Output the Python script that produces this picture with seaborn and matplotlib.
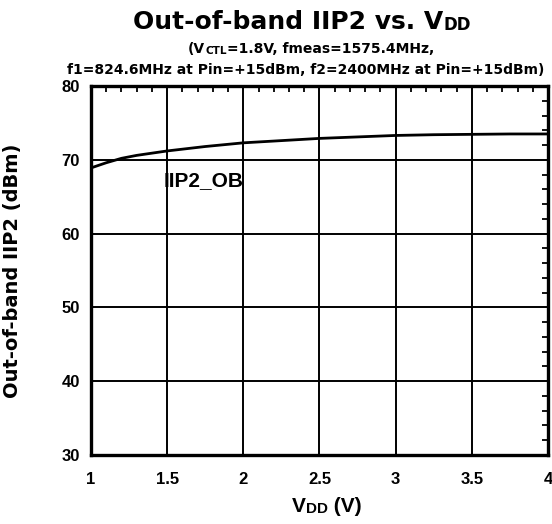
import matplotlib
matplotlib.use('Agg')
import matplotlib.pyplot as plt
from matplotlib.ticker import MultipleLocator
import seaborn as sns

# veriler
vdd = [1.0, 1.1, 1.2, 1.3, 1.5, 1.75, 2.0, 2.25, 2.5, 2.75, 3.0, 3.25, 3.5, 3.75, 4.0]
iip2_ob = [68.9, 69.6, 70.2, 70.6, 71.2, 71.8, 72.3, 72.6, 72.9, 73.1, 73.3, 73.4, 73.45, 73.5, 73.5]
x_ticks = [1, 1.5, 2, 2.5, 3, 3.5, 4]
x_tick_labels = ['1', '1.5', '2', '2.5', '3', '3.5', '4']
y_ticks = [30, 40, 50, 60, 70, 80]

sns.set_style('white')
plt.rcParams['font.family'] = ['Liberation Sans', 'DejaVu Sans']
plt.rcParams['font.weight'] = 'bold'
for k in ['text.color', 'axes.labelcolor', 'xtick.color', 'ytick.color', 'axes.edgecolor']:
    plt.rcParams[k] = 'black'

fig = plt.figure(figsize=(5.52, 5.24), dpi=100)
ax = fig.add_axes([91/552, 69/524, 457/552, 369/524])

sns.lineplot(x=vdd, y=iip2_ob, color='black', linewidth=2.0, ax=ax)

ax.set_xlim(1, 4)
ax.set_ylim(30, 80)
ax.set_xticks(x_ticks)
ax.set_xticklabels(x_tick_labels)
ax.set_yticks(y_ticks)
ax.xaxis.set_minor_locator(MultipleLocator(0.1))
ax.yaxis.set_minor_locator(MultipleLocator(2))
ax.grid(True, which='major', color='black', linewidth=1.4)
ax.tick_params(which='both', direction='in', top=True, right=True, labelsize=12, width=1.3, colors='black')
ax.tick_params(which='major', length=0, pad=12)
ax.tick_params(which='minor', length=4.5)
ax.tick_params(axis='y', which='major', pad=8)
for lab in ax.get_xticklabels() + ax.get_yticklabels():
    lab.set_fontweight('bold')
for sp in ax.spines.values():
    sp.set_linewidth(2.4)
    sp.set_color('black')
    sp.set_visible(True)

ax.text(1.475, 67.2, 'IIP2_OB', fontsize=15, fontweight='bold', va='center', ha='left')

# eksen etiketleri
ax.set_ylabel('Out-of-band IIP2 (dBm)', fontsize=14, fontweight='bold', family='DejaVu Sans')
ax.yaxis.set_label_coords(-0.15, 0.5)
xl = ax.text(0.44, -0.155, 'V', transform=ax.transAxes, fontsize=15, fontweight='bold', ha='left', va='baseline')
xl2 = ax.annotate('DD', xy=(1, 0), xycoords=xl, fontsize=11, fontweight='bold', ha='left', va='bottom')
ax.annotate(' (V)', xy=(1, 0), xycoords=xl2, fontsize=15, fontweight='bold', ha='left', va='bottom')

# baslik
t1 = fig.text(133/552, 1 - 29/524, 'Out-of-band IIP2 vs. V', fontsize=18, fontweight='bold',
              family='DejaVu Sans', ha='left', va='baseline')
fig.add_artist(matplotlib.text.Annotation('DD', xy=(1, 0), xycoords=t1, fontsize=12, fontweight='bold',
                                          family='DejaVu Sans', ha='left', va='bottom'))

s1 = fig.text(188/552, 1 - 53/524, '(V', fontsize=10, fontweight='bold', family='DejaVu Sans',
              ha='left', va='baseline')
s2 = matplotlib.text.Annotation('CTL', xy=(1, 0), xycoords=s1, fontsize=7.5, fontweight='bold',
                                family='DejaVu Sans', ha='left', va='bottom')
fig.add_artist(s2)
fig.add_artist(matplotlib.text.Annotation('=1.8V, fmeas=1575.4MHz,', xy=(1, 0), xycoords=s2, fontsize=10,
                                          fontweight='bold', family='DejaVu Sans', ha='left', va='bottom'))
fig.text(67/552, 1 - 74/524, 'f1=824.6MHz at Pin=+15dBm, f2=2400MHz at Pin=+15dBm)', fontsize=10,
         fontweight='bold', family='DejaVu Sans', ha='left', va='baseline')

fig.savefig('out.png', dpi=100)
